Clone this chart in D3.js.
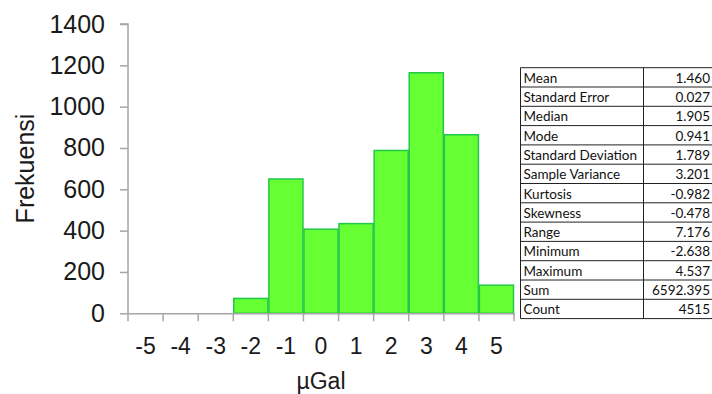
<!DOCTYPE html>
<html><head><meta charset="utf-8">
<script src="https://cdn.jsdelivr.net/npm/d3@7"></script>
<style>body{margin:0;background:#fff}svg{display:block}</style>
</head><body>
<svg id="c" width="712" height="394"></svg>
<script>
const categories = ["-5","-4","-3","-2","-1","0","1","2","3","4","5"];
const frequencies = [0,0,0,72,650,407,434,788,1164,864,136];
const yTicks = [0,200,400,600,800,1000,1200,1400];
const statLabels = ["Mean","Standard Error","Median","Mode","Standard Deviation","Sample Variance","Kurtosis","Skewness","Range","Minimum","Maximum","Sum","Count"];
const statValues = ["1.460","0.027","1.905","0.941","1.789","3.201","-0.982","-0.478","7.176","-2.638","4.537","6592.395","4515"];

(function(){
const svg = d3.select("#c");
const pLeft = 128, pRight = 514, pTop = 24, pBottom = 313.3;
const x = d3.scaleBand().domain(categories).range([pLeft, pRight]).padding(0);
const y = d3.scaleLinear().domain([0,1400]).range([pBottom, pTop]);
const axisColor = "#a6a6a6";

// bars
svg.append("g").selectAll("rect").data(categories.map((c,i)=>({c,v:frequencies[i]})).filter(d=>d.v>0))
  .join("rect")
  .attr("x", d=>x(d.c)+0.5).attr("width", x.bandwidth()-1)
  .attr("y", d=>y(d.v)).attr("height", d=>pBottom-y(d.v))
  .attr("fill", "#66ff33").attr("stroke", "#22c84a").attr("stroke-width", 1.5);

// y axis
const ya = svg.append("g").attr("transform", `translate(${pLeft},0)`)
  .call(d3.axisLeft(y).tickValues(yTicks).tickSize(8).tickPadding(15).tickFormat(d3.format("d")));
ya.select(".domain").attr("stroke", axisColor).attr("stroke-width", 1.5).attr("d", `M-8,${pTop}H0V${pBottom}`);
ya.selectAll(".tick line").attr("stroke", axisColor).attr("stroke-width", 1.5);
ya.selectAll(".tick text").attr("font-family", "Liberation Sans, Arial, sans-serif").attr("font-size", 25).attr("fill", "#1a1a1a");

// x axis
const xa = svg.append("g").attr("transform", `translate(0,${pBottom})`)
  .call(d3.axisBottom(x).tickSize(0).tickPadding(24));
xa.select(".domain").attr("stroke", axisColor).attr("stroke-width", 1.5);
xa.selectAll(".tick text").attr("font-family", "Liberation Sans, Arial, sans-serif").attr("font-size", 23).attr("fill", "#1a1a1a");
const bounds = categories.map(c=>x(c)).concat([x(categories[categories.length-1])+x.bandwidth()]);
xa.append("g").selectAll("line").data(bounds).join("line")
  .attr("x1", d=>d).attr("x2", d=>d).attr("y1", 0).attr("y2", 8)
  .attr("stroke", axisColor).attr("stroke-width", 1.5);

// titles
svg.append("text").attr("x", (pLeft+pRight)/2).attr("y", 389)
  .attr("text-anchor","middle").attr("font-family","Liberation Sans, Arial, sans-serif")
  .attr("font-size", 23).attr("fill","#1a1a1a").text("µGal");
svg.append("text").attr("transform", "translate(34,168.5) rotate(-90)")
  .attr("text-anchor","middle").attr("font-family","Liberation Sans, Arial, sans-serif")
  .attr("font-size", 25).attr("fill","#1a1a1a").text("Frekuensi");

// stats table
const tx0 = 520.5, tx1 = 643.5, tx2 = 714, ty0 = 67.7, rh = 19.3;
const tg = svg.append("g");
const rows = d3.range(statLabels.length);
tg.selectAll("line.h").data(d3.range(statLabels.length+1)).join("line")
  .attr("x1", tx0).attr("x2", tx2).attr("y1", i=>ty0+i*rh).attr("y2", i=>ty0+i*rh)
  .attr("stroke","#222").attr("stroke-width",1);
[tx0, tx1].forEach(xx=>tg.append("line").attr("x1",xx).attr("x2",xx).attr("y1",ty0).attr("y2",ty0+statLabels.length*rh).attr("stroke","#222").attr("stroke-width",1));
tg.selectAll("text.l").data(rows).join("text")
  .attr("x", tx0+3).attr("y", i=>ty0+i*rh+15)
  .attr("font-family","Lato, Open Sans, sans-serif").attr("font-size", 13.5).attr("fill","#111")
  .text(i=>statLabels[i]);
tg.selectAll("text.v").data(rows).join("text")
  .attr("x", 710).attr("y", i=>ty0+i*rh+15).attr("text-anchor","end")
  .attr("font-family","Lato, Open Sans, sans-serif").attr("font-size", 13.5).attr("fill","#111")
  .text(i=>statValues[i]);
})();
</script>
</body></html>
